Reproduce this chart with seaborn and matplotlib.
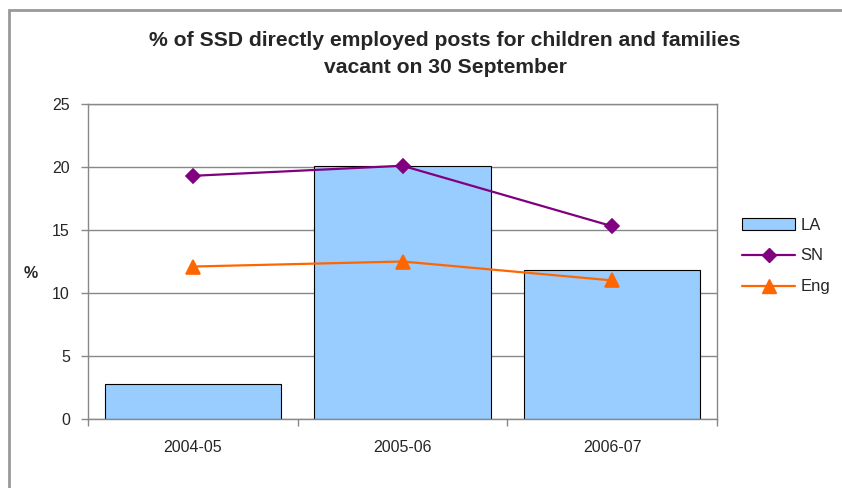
import numpy as np
import pandas as pd
import matplotlib.pyplot as plt
import seaborn as sns
from matplotlib.patches import Patch, Rectangle
from matplotlib.lines import Line2D

# Data
years = ["2004-05", "2005-06", "2006-07"]
la = [2.8, 20.1, 11.8]
sn = [19.3, 20.1, 15.3]
eng = [12.1, 12.5, 11.0]

sns.set_style("white")
plt.rcParams["font.family"] = ["Liberation Sans", "DejaVu Sans"]

fig = plt.figure(figsize=(8.42, 4.88), dpi=100)
ax = fig.add_axes([88 / 842, 1 - 419 / 488, (717 - 88) / 842, (419 - 104) / 488])

df = pd.DataFrame({"Year": years, "LA": la})
sns.barplot(data=df, x="Year", y="LA", ax=ax, color="#99CCFF", width=0.84,
            edgecolor="black", linewidth=0.8, saturation=1, zorder=2)
for p in ax.patches:
    p.set_facecolor("#99CCFF")

sns.pointplot(x=years, y=sn, ax=ax, color="#800080", markers="D",
              markersize=7, linewidth=1.6, errorbar=None, zorder=4)
sns.pointplot(x=years, y=eng, ax=ax, color="#FF6600", markers="^",
              markersize=10, linewidth=1.6, errorbar=None, zorder=4)

ax.set_xlim(-0.5, 2.5)
ax.set_ylim(0, 25)
ax.set_yticks(range(0, 26, 5))
ax.yaxis.grid(True, color="#888888", linewidth=1, zorder=0)
ax.set_axisbelow(True)
for s in ax.spines.values():
    s.set_color("#888888")
    s.set_linewidth(1)

ax.set_xlabel("")
ax.set_ylabel("%", rotation=0, fontsize=11.5, fontweight="bold", va="center", ha="center")
ax.yaxis.set_label_coords((31 - 88) / 629, (419 - 273) / 315)
ax.tick_params(axis="y", length=5, width=1, color="#888888", labelsize=11.5, pad=8, left=True)
ax.tick_params(axis="x", which="major", length=0, labelsize=11.5, pad=15)
ax.set_xticks([-0.5, 0.5, 1.5, 2.5], minor=True)
ax.tick_params(axis="x", which="minor", length=5, width=1, color="#888888", bottom=True)

fig.suptitle("% of SSD directly employed posts for children and families\nvacant on 30 September",
             x=445 / 842, y=1 - 31 / 488, fontsize=15.2, fontweight="bold", linespacing=1.55)

handles = [
    Patch(facecolor="#99CCFF", edgecolor="black", linewidth=0.8),
    Line2D([], [], color="#800080", marker="D", markersize=7, linewidth=1.6),
    Line2D([], [], color="#FF6600", marker="^", markersize=10, linewidth=1.6),
]
fig.legend(handles, ["LA", "SN", "Eng"], loc="center left",
           bbox_to_anchor=(727 / 842, 1 - 256 / 488), frameon=False,
           fontsize=12, handlelength=3.2, handletextpad=0.3, labelspacing=0.95)

fig.patches.append(Rectangle((9 / 842, -0.1), 1.2, 1.1 - 10 / 488, transform=fig.transFigure,
                             fill=False, edgecolor="#999999", linewidth=2))

fig.savefig("out.png", dpi=100)
